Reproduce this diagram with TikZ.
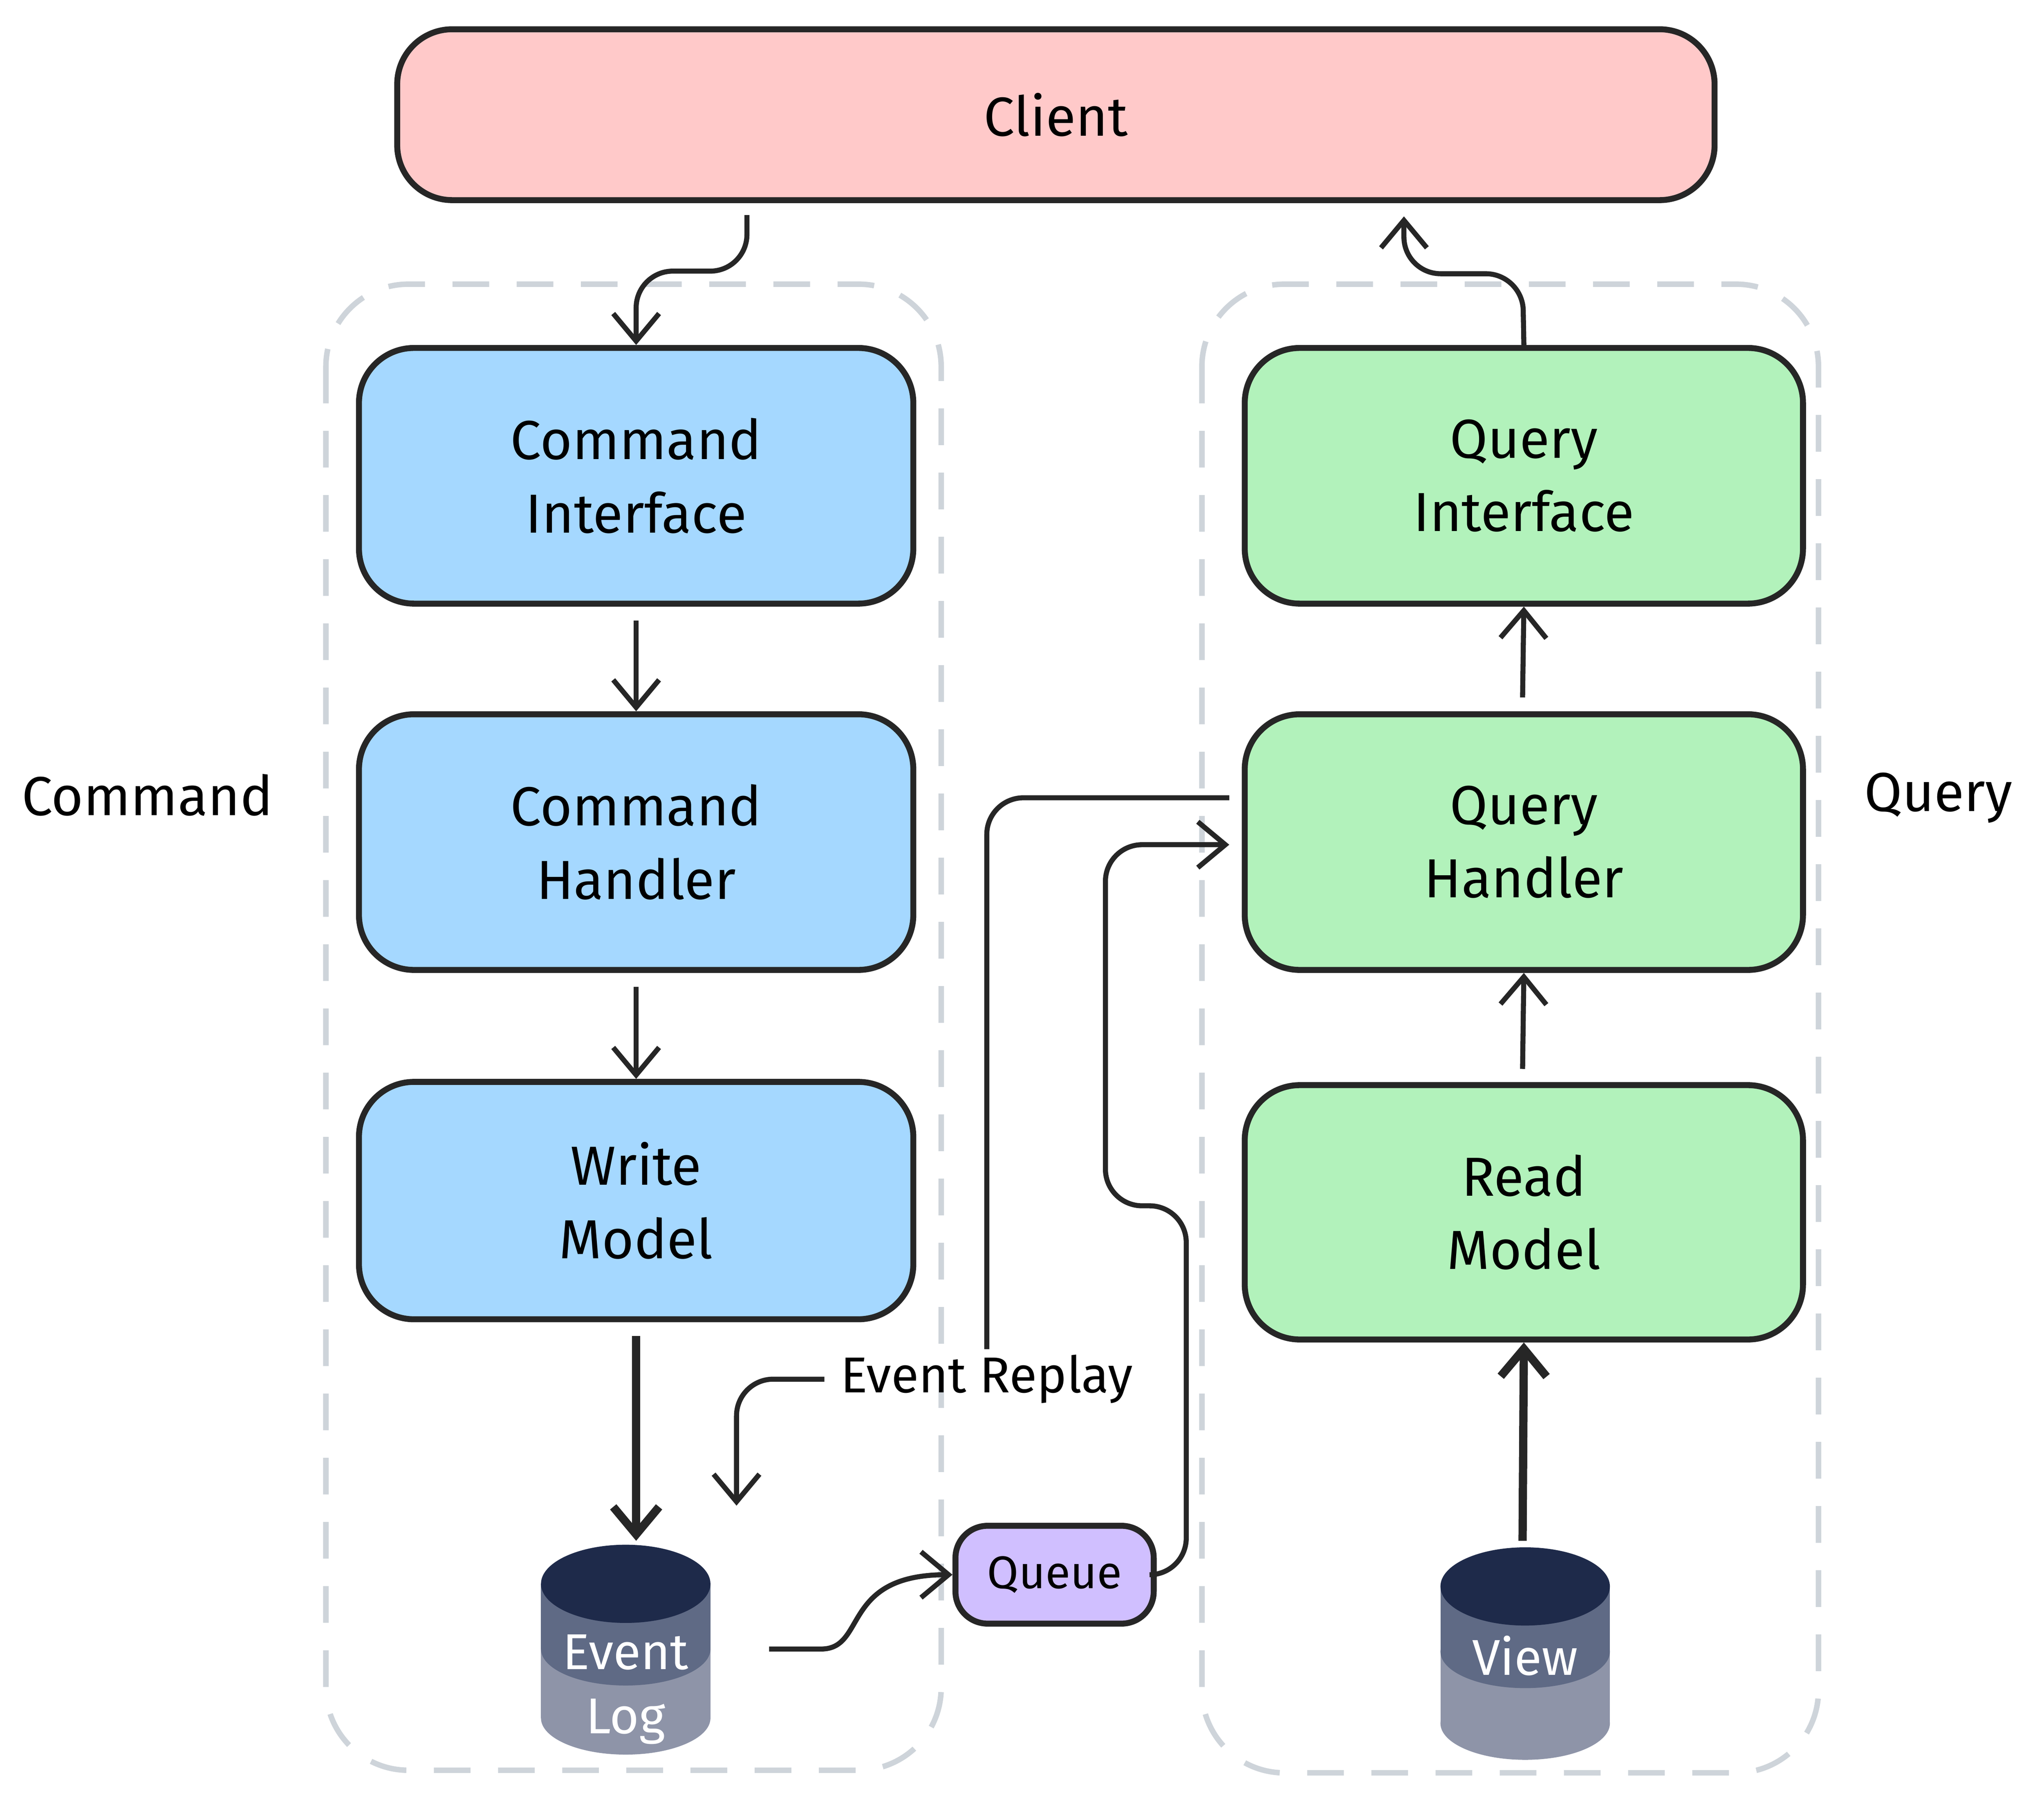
\documentclass[tikz,border=0pt]{standalone}
\usepackage{fontspec}
\setmainfont{Fira Sans}
\usetikzlibrary{shapes.geometric,arrows.meta}
\definecolor{clientpink}{HTML}{FFC9C9}
\definecolor{cmdblue}{HTML}{A5D8FF}
\definecolor{qrygreen}{HTML}{B2F2BB}
\definecolor{queuepurple}{HTML}{D0BFFF}
\definecolor{dbtop}{HTML}{1E2A4A}
\definecolor{dbmid}{HTML}{5F6A85}
\definecolor{dbbot}{HTML}{8E94A8}
\definecolor{boxgray}{HTML}{CED4DA}
\tikzset{
  box/.style={draw=black!85,line width=1.3pt,rounded corners=12pt,align=center,
    font=\fontsize{12}{16}\selectfont},
  group/.style={draw=boxgray,line width=1.2pt,dash pattern=on 8pt off 6pt,rounded corners=18pt},
  conn/.style={draw=black!85,line width=1.1pt,-{Straight Barb[length=6pt,width=10pt]},rounded corners=8pt},
  thickconn/.style={conn,line width=1.8pt},
}
\begin{document}
\begin{tikzpicture}[x=0.01cm,y=-0.01cm]
    \useasboundingbox (0,0) rectangle (1568,1389);
    % groups
    \draw[group](250,218) rectangle (722,1358);
    \draw[group](922,218) rectangle (1395,1360);
    \node[font=\fontsize{12}{16}\selectfont] (cmdlabel) at (113,610) {Command};
    \node[font=\fontsize{12}{16}\selectfont] (qrylabel) at (1487,612) {Query};

    % boxes
    \node[box,fill=clientpink,minimum width=10.1cm,minimum height=1.31cm] (client) at (810,88) {Client};
    \node[box,fill=cmdblue,minimum width=4.25cm,minimum height=1.96cm] (cmdif) at (488,365) {Command\\Interface};
    \node[box,fill=cmdblue,minimum width=4.25cm,minimum height=1.96cm] (cmdh) at (488,646) {Command\\Handler};
    \node[box,fill=cmdblue,minimum width=4.25cm,minimum height=1.82cm] (wmodel) at (488,921) {Write\\Model};
    \node[box,fill=qrygreen,minimum width=4.28cm,minimum height=1.96cm] (qryif) at (1169,365) {Query\\Interface};
    \node[box,fill=qrygreen,minimum width=4.28cm,minimum height=1.96cm] (qryh) at (1169,646) {Query\\Handler};
    \node[box,fill=qrygreen,minimum width=4.28cm,minimum height=1.95cm] (rmodel) at (1169,930) {Read\\Model};
    \node[box,fill=queuepurple,rounded corners=7pt,minimum width=1.52cm,minimum height=0.75cm,
      font=\fontsize{10}{13}\selectfont] (queue) at (809,1208) {Queue};

    % databases
    \foreach \nm/\cx/\ty/\by/\ly/\txt in {evlog/480/1215/1318/1296/{Event\\Log},view/1170/1217/1322/1270/{View}}{
      \fill[dbbot](\cx-65,\ty+50) rectangle (\cx+65,\by);
      \fill[dbbot](\cx,\by) ellipse (65 and 28);
      \fill[dbmid](\cx-65,\ty) rectangle (\cx+65,\ty+50);
      \fill[dbmid](\cx,\ty+50) ellipse (65 and 28);
      \fill[dbtop](\cx,\ty) ellipse (65 and 30);
      \node[text=white,align=center,font=\fontsize{11}{14}\selectfont] (\nm) at (\cx,\ly) {\txt};
    }
    \coordinate (evlogtop) at (488,1182);
    \coordinate (evlogright) at (590,1265);
    \coordinate (viewtop) at (1168,1182);

    % connectors
    \draw[conn](573,165) -- (573,208) -- (488,208) -- (cmdif.north);
    \draw[conn](qryif.north) -- (1168,210) -- (1077,210) -- (1077,166);
    \draw[conn](488,476) -- (cmdh.north);
    \draw[conn](488,757) -- (wmodel.north);
    \draw[thickconn](488,1025) -- (evlogtop);
    \draw[conn](1168,535) -- (qryif.south);
    \draw[conn](1168,820) -- (qryh.south);
    \draw[thickconn](viewtop) -- (rmodel.south);
    \draw[conn,rounded corners=0pt](evlogright) -- (630,1265) .. controls (665,1265) and (645,1208) .. (queue.west);
    \draw[conn](queue.east) -- (910,1208) -- (910,925) -- (848,925) -- (848,648) -- (943,648);
    \draw[draw=black!85,line width=1.1pt,rounded corners=8pt](943,612) -- (757,612) -- (757,1035);
    \node[font=\fontsize{11}{14}\selectfont] (replay) at (757,1058) {Event Replay};
    \draw[conn](replay.west) -- (565,1058) -- (565,1155);
\end{tikzpicture}
\end{document}
